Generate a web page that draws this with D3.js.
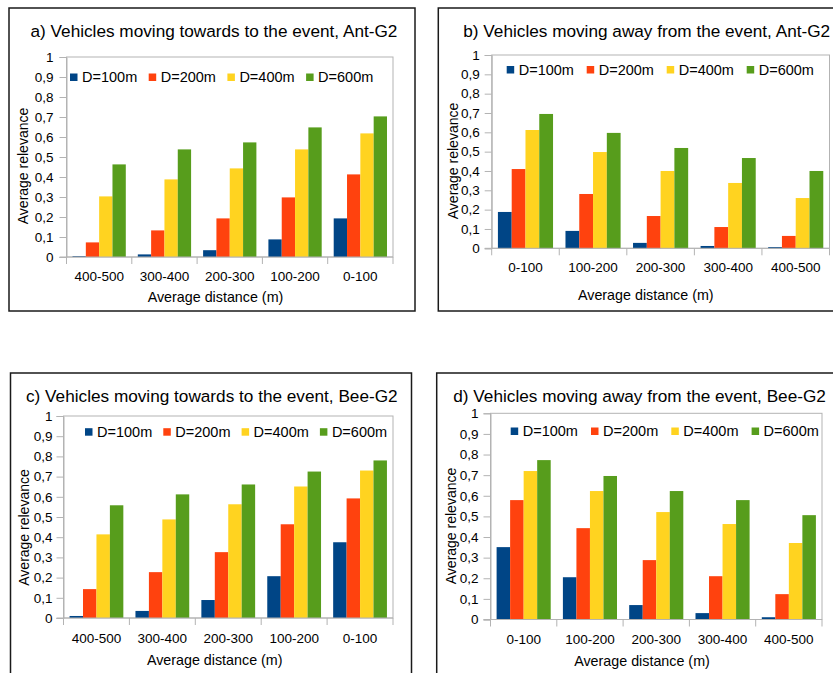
<!DOCTYPE html>
<html>
<head>
    <title>Average relevance vs average distance</title>
    <script src="https://d3js.org/d3.v7.min.js"></script>
    <style>
        body { margin: 0; background: #fff; }
        text { font-family: "Liberation Sans", Arial, sans-serif; fill: #000; }
    </style>
</head>
<body>
<svg width="833" height="673"></svg>

<script>
// categories
const towardsCats = ["400-500", "300-400", "200-300", "100-200", "0-100"];
const awayCats = ["0-100", "100-200", "200-300", "300-400", "400-500"];
const seriesNames = ["D=100m", "D=200m", "D=400m", "D=600m"];
const colors = ["#004586", "#ff420e", "#ffd320", "#579d1c"];
const yTicks = [0, 0.1, 0.2, 0.3, 0.4, 0.5, 0.6, 0.7, 0.8, 0.9, 1];

// a) Ant-G2, towards (one row per series, in category order)
const antTowards100 = [0.004, 0.013, 0.034, 0.088, 0.193];
const antTowards200 = [0.073, 0.133, 0.193, 0.298, 0.413];
const antTowards400 = [0.303, 0.388, 0.443, 0.538, 0.618];
const antTowards600 = [0.463, 0.538, 0.573, 0.648, 0.703];

// b) Ant-G2, away
const antAway100 = [0.188, 0.090, 0.028, 0.012, 0.006];
const antAway200 = [0.410, 0.281, 0.167, 0.110, 0.064];
const antAway400 = [0.612, 0.498, 0.400, 0.338, 0.260];
const antAway600 = [0.695, 0.597, 0.519, 0.467, 0.400];

// c) Bee-G2, towards
const beeTowards100 = [0.010, 0.035, 0.089, 0.207, 0.375];
const beeTowards200 = [0.143, 0.227, 0.326, 0.464, 0.592];
const beeTowards400 = [0.414, 0.488, 0.563, 0.651, 0.730];
const beeTowards600 = [0.558, 0.612, 0.661, 0.725, 0.780];

// d) Bee-G2, away
const beeAway100 = [0.351, 0.205, 0.070, 0.031, 0.011];
const beeAway200 = [0.579, 0.443, 0.288, 0.210, 0.123];
const beeAway400 = [0.720, 0.623, 0.521, 0.463, 0.371];
const beeAway600 = [0.773, 0.696, 0.623, 0.579, 0.506];

const fmt = d3.formatLocale({decimal: ",", thousands: ".", grouping: [3], currency: ["", ""]}).format("~g");

const panels = [
    {title: "a) Vehicles moving towards to the event, Ant-G2", cats: towardsCats,
     series: [antTowards100, antTowards200, antTowards400, antTowards600],
     frame: [9, 8, 406, 303], plot: [66.5, 57, 393, 257], titleX: 30.5, titleY: 37, tickPad: 6,
     legX: 70, legY: 77, legStep: 78.7, yTitle: [27.5, 166], xLabY: 281, xTitle: [215.5, 302]},
    {title: "b) Vehicles moving away from the event, Ant-G2", cats: awayCats,
     series: [antAway100, antAway200, antAway400, antAway600],
     frame: [438.3, 8, 420, 303], plot: [491.7, 55, 829.5, 248.3], titleX: 463.3, titleY: 37, tickPad: 5,
     legX: 506.7, legY: 69.5, legStep: 80, yTitle: [457.5, 161], xLabY: 272, xTitle: [645.8, 300]},
    {title: "c) Vehicles moving towards to the event, Bee-G2", cats: towardsCats,
     series: [beeTowards100, beeTowards200, beeTowards400, beeTowards600],
     frame: [10.5, 373, 401, 320], plot: [63.5, 416, 393, 618], titleX: 26, titleY: 401.5, tickPad: 4,
     legX: 85, legY: 431.7, legStep: 78.3, yTitle: [29, 527.5], xLabY: 643, xTitle: [214.7, 665]},
    {title: "d) Vehicles moving away from the event, Bee-G2", cats: awayCats,
     series: [beeAway100, beeAway200, beeAway400, beeAway600],
     frame: [436.7, 373, 420, 320], plot: [490.5, 413.3, 822, 619.5], titleX: 453.3, titleY: 401.5, tickPad: 5,
     legX: 510.7, legY: 431, legStep: 80.3, yTitle: [456, 526], xLabY: 644, xTitle: [642, 666]}
];

const svg = d3.select("svg");

panels.forEach(function(p) {
    const g = svg.append("g");
    const [x0, y0, x1, y1] = p.plot;

    // outer frame
    g.append("rect")
        .attr("x", p.frame[0]).attr("y", p.frame[1])
        .attr("width", p.frame[2]).attr("height", p.frame[3])
        .attr("fill", "none").attr("stroke", "#1a1a1a").attr("stroke-width", 1.5);

    g.append("text")
        .attr("x", p.titleX).attr("y", p.titleY)
        .style("font-size", "17.2px")
        .text(p.title);

    const x = d3.scaleBand().domain(p.cats).range([x0, x1]);
    const y = d3.scaleLinear().domain([0, 1]).range([y1, y0]);
    const gap = x.bandwidth() * 0.092;
    const xs = d3.scaleBand().domain(d3.range(seriesNames.length))
        .range([gap, x.bandwidth() - gap]);

    // plot border (wall)
    g.append("rect")
        .attr("x", x0).attr("y", y0)
        .attr("width", x1 - x0).attr("height", y1 - y0)
        .attr("fill", "none").attr("stroke", "#b3b3b3").attr("stroke-width", 1);

    // bars
    p.series.forEach(function(vals, si) {
        g.append("g").selectAll("rect")
            .data(vals)
            .join("rect")
            .attr("x", (d, i) => x(p.cats[i]) + xs(si))
            .attr("y", d => y(d))
            .attr("width", xs.bandwidth())
            .attr("height", d => y(0) - y(d))
            .attr("fill", colors[si]);
    });

    // y axis
    const yAxis = g.append("g")
        .attr("transform", "translate(" + x0 + ",0)")
        .call(d3.axisLeft(y).tickValues(yTicks).tickFormat(fmt).tickSize(7).tickPadding(p.tickPad));
    yAxis.select(".domain").attr("stroke", "#b3b3b3");
    yAxis.selectAll(".tick line").attr("stroke", "#b3b3b3");
    yAxis.selectAll(".tick text")
        .style("font-size", "13.5px")
        .attr("font-family", null)
        .attr("fill", "#000");

    // x axis with ticks at band edges
    const xAxisLine = g.append("g");
    xAxisLine.append("line")
        .attr("x1", x0 - 7).attr("x2", x1)
        .attr("y1", y1).attr("y2", y1)
        .attr("stroke", "#b3b3b3");
    xAxisLine.selectAll(".edge")
        .data(p.cats.concat(["end"]))
        .join("line")
        .attr("class", "edge")
        .attr("x1", (d, i) => i < p.cats.length ? x(d) : x1)
        .attr("x2", (d, i) => i < p.cats.length ? x(d) : x1)
        .attr("y1", y1).attr("y2", y1 + 7)
        .attr("stroke", "#b3b3b3");
    g.append("g").selectAll("text")
        .data(p.cats)
        .join("text")
        .attr("x", d => x(d) + x.bandwidth() / 2)
        .attr("y", p.xLabY)
        .attr("text-anchor", "middle")
        .style("font-size", "13.5px")
        .text(d => d);

    g.append("text")
        .attr("x", p.xTitle[0]).attr("y", p.xTitle[1])
        .attr("text-anchor", "middle")
        .style("font-size", "14.3px")
        .text("Average distance (m)");

    g.append("text")
        .attr("transform", "translate(" + p.yTitle[0] + "," + p.yTitle[1] + ") rotate(-90)")
        .attr("text-anchor", "middle")
        .style("font-size", "14px")
        .text("Average relevance");

    // legend
    const legend = g.append("g");
    const items = legend.selectAll("g")
        .data(seriesNames)
        .join("g")
        .attr("transform", (d, i) => "translate(" + (p.legX + i * p.legStep) + "," + p.legY + ")");
    items.append("rect")
        .attr("x", 0).attr("y", -3.5)
        .attr("width", 7.5).attr("height", 7.5)
        .attr("fill", (d, i) => colors[i]);
    items.append("text")
        .attr("x", 12).attr("y", 5.2)
        .style("font-size", "14.5px")
        .text(d => d);
});
</script>
</body>
</html>
